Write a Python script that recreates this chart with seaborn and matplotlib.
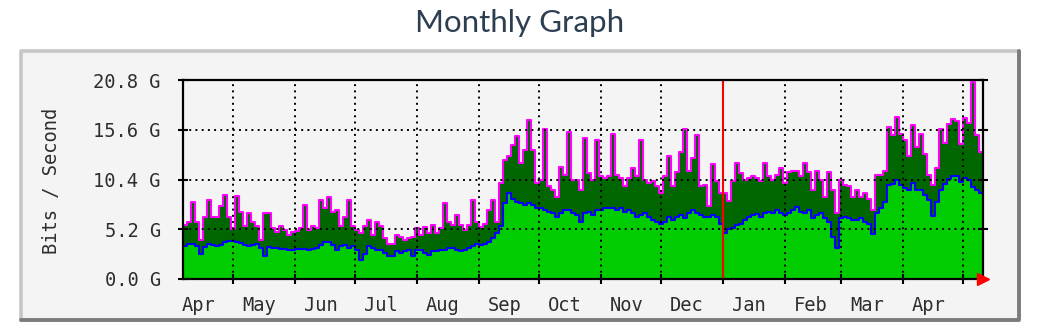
import numpy as np
import pandas as pd
import matplotlib
matplotlib.use("Agg")
import matplotlib.pyplot as plt
import matplotlib.dates as mdates
from matplotlib.patches import Rectangle
from matplotlib.lines import Line2D
import seaborn as sns

# ---- traffic samples: one value per 2-day bin, in Gbit/s -------------------
start_date = "2017-04-06"
end_date = "2018-05-11"
bin_days = 2

peak_traffic = [
    5.6, 6.0, 8.1, 6.0, 4.1, 6.5, 8.3, 6.5, 6.5, 7.6,
    8.8, 6.5, 5.2, 8.7, 7.0, 5.5, 6.9, 6.0, 5.5, 4.1,
    6.9, 6.9, 5.3, 4.9, 5.5, 5.1, 4.6, 4.9, 5.0, 5.3,
    7.7, 5.1, 5.5, 5.3, 8.3, 7.4, 8.6, 7.0, 7.2, 5.5,
    6.5, 8.3, 5.5, 5.1, 4.8, 5.5, 6.2, 4.6, 6.0, 5.5,
    4.3, 3.7, 3.7, 4.6, 4.4, 4.1, 4.3, 4.4, 5.3, 4.6,
    5.4, 4.8, 5.6, 4.8, 5.3, 7.9, 6.0, 5.6, 6.7, 5.6,
    5.1, 5.6, 8.3, 6.0, 5.4, 5.8, 7.2, 8.3, 6.0, 10.0,
    12.4, 12.9, 14.0, 14.9, 12.1, 13.5, 16.6, 13.5, 10.0, 10.4,
    15.7, 9.7, 9.3, 8.6, 11.7, 10.9, 15.4, 10.4, 10.4, 9.3,
    14.7, 11.1, 10.4, 14.5, 10.8, 10.6, 10.8, 15.2, 10.9, 10.6,
    9.7, 10.6, 11.6, 10.8, 14.5, 10.4, 10.0, 10.2, 9.7, 9.0,
    10.8, 12.9, 9.7, 11.2, 13.3, 15.7, 11.3, 12.6, 15.0, 9.7,
    9.8, 7.6, 12.0, 10.2, 9.0, 9.0, 8.2, 10.2, 12.1, 11.1,
    10.4, 10.6, 10.8, 10.6, 10.2, 12.1, 10.8, 10.4, 10.9, 11.6,
    10.0, 11.2, 11.3, 11.3, 10.8, 12.1, 11.2, 9.3, 11.3, 10.4,
    8.6, 11.2, 9.3, 6.9, 10.4, 9.8, 9.7, 8.6, 9.3, 8.6,
    9.0, 8.4, 7.2, 10.9, 10.9, 11.3, 15.9, 15.0, 16.9, 15.2,
    14.5, 12.9, 16.1, 13.8, 15.2, 13.1, 10.9, 9.8, 11.6, 15.7,
    14.2, 16.2, 16.7, 16.5, 14.1, 16.8, 16.3, 20.6, 15.0, 13.3,
]

avg_traffic = [
    3.5, 3.7, 3.7, 3.4, 2.6, 3.3, 3.7, 3.6, 3.4, 3.6,
    3.9, 4.0, 4.0, 3.9, 3.8, 3.6, 3.5, 3.6, 3.7, 3.2,
    2.4, 3.3, 3.2, 3.2, 3.1, 3.1, 3.0, 3.0, 3.1, 3.1,
    3.1, 3.0, 3.1, 3.2, 3.6, 3.9, 3.9, 3.6, 3.0, 3.4,
    3.6, 3.2, 3.4, 3.0, 2.0, 2.6, 3.4, 3.2, 3.0, 3.0,
    2.7, 2.4, 2.4, 2.9, 2.7, 2.9, 3.0, 2.4, 3.0, 3.0,
    2.7, 2.5, 2.9, 2.9, 3.0, 3.0, 3.2, 3.2, 3.0, 2.9,
    3.0, 3.2, 3.4, 3.7, 3.6, 3.7, 3.9, 4.3, 4.8, 5.5,
    7.9, 9.0, 8.4, 8.1, 7.9, 7.7, 7.9, 7.7, 7.4, 7.4,
    7.2, 7.0, 6.9, 6.5, 6.9, 7.2, 7.2, 6.9, 6.7, 6.0,
    6.9, 7.0, 6.7, 7.2, 7.2, 7.4, 7.4, 7.4, 7.2, 7.4,
    7.0, 7.2, 6.9, 6.5, 6.7, 6.9, 6.5, 6.2, 6.0, 5.8,
    6.0, 6.5, 6.2, 6.5, 6.7, 6.4, 6.9, 7.2, 6.9, 6.7,
    6.5, 6.5, 6.7, 6.5, 5.8, 4.8, 5.2, 5.3, 5.6, 5.8,
    6.2, 6.5, 6.7, 6.8, 6.5, 6.9, 7.0, 6.9, 7.2, 6.9,
    6.7, 6.9, 7.2, 7.5, 7.0, 6.9, 7.2, 6.4, 6.7, 6.9,
    6.4, 6.0, 4.4, 3.2, 6.4, 6.5, 6.4, 6.2, 6.2, 6.4,
    6.0, 5.8, 4.7, 6.9, 7.4, 8.1, 9.8, 9.95, 10.3, 9.8,
    9.5, 9.3, 10.0, 9.3, 9.3, 8.8, 8.3, 6.6, 8.1, 9.3,
    9.95, 10.5, 10.8, 10.8, 10.1, 10.6, 10.3, 9.6, 9.3, 9.0,
]

y_ticks = [0.0, 5.2, 10.4, 15.6, 20.8]
month_labels = ["Apr", "May", "Jun", "Jul", "Aug", "Sep", "Oct",
                "Nov", "Dec", "Jan", "Feb", "Mar", "Apr"]
year_boundary = "2018-01-01"

# ---- figure setup ----------------------------------------------------------
W, H = 1040, 336
sns.set_theme(style="white")
plt.rcParams["font.family"] = ["DejaVu Sans Mono"]
TXT = "#2e2e2e"
MONO_SIZE = 13.5


def fx(px):
    return px / W


def fy(py):
    return 1 - py / H


fig = plt.figure(figsize=(W / 100, H / 100), dpi=100)
fig.patch.set_facecolor("white")

# bevelled grey panel behind the chart
fig.add_artist(Rectangle((fx(21), fy(320)), fx(1019) - fx(21), fy(51) - fy(320),
                         transform=fig.transFigure, facecolor="#f4f4f4",
                         edgecolor="none", zorder=0))
fig.add_artist(Line2D([fx(21), fx(21), fx(1019)], [fy(320), fy(51), fy(51)],
                      transform=fig.transFigure, color="#c6c6c6", lw=2.6))
fig.add_artist(Line2D([fx(21), fx(1019), fx(1019)], [fy(320), fy(320), fy(51)],
                      transform=fig.transFigure, color="#7c7c7c", lw=2.8))

ax = fig.add_axes([fx(183), fy(279), fx(983) - fx(183), fy(80) - fy(279)])
ax.set_facecolor("#f4f4f4")

# ---- data ------------------------------------------------------------------
bins = pd.date_range(start_date, periods=len(peak_traffic), freq=f"{bin_days}D")
t = mdates.date2num(list(bins) + [pd.Timestamp(end_date)])
peak = np.append(peak_traffic, peak_traffic[-1])
avg = np.append(avg_traffic, avg_traffic[-1])

ax.fill_between(t, peak, step="post", color="#006600", lw=0, zorder=1)
ax.fill_between(t, avg, step="post", color="#00cc00", lw=0, zorder=1.1)
sns.lineplot(x=t, y=peak, ax=ax, color="#ff00ff", linewidth=1.5,
             drawstyle="steps-post", estimator=None, zorder=2)
sns.lineplot(x=t, y=avg, ax=ax, color="#0000ff", linewidth=1.5,
             drawstyle="steps-post", estimator=None, zorder=2.1)

# ---- axes ------------------------------------------------------------------
ax.set_xlim(t[0], t[-1])
ax.set_ylim(y_ticks[0], y_ticks[-1])

month_starts = pd.date_range("2017-05-01", "2018-05-01", freq="MS")
label_pos = [m + pd.Timedelta(days=13)
             for m in pd.date_range("2017-04-01", "2018-04-01", freq="MS")]
ax.set_xticks(mdates.date2num(month_starts))
ax.set_xticklabels([])
ax.set_xticks(mdates.date2num(label_pos), minor=True)
ax.set_xticklabels(month_labels, minor=True)

ax.set_yticks(y_ticks)
ax.set_yticklabels([f"{v:.1f} G" for v in y_ticks])

ax.grid(True, which="major", color="black", linestyle=(0, (1, 2.2)), lw=1.4)
ax.set_axisbelow(False)

ax.tick_params(axis="both", which="major", direction="inout", length=7,
               width=1.5, color="black", labelsize=MONO_SIZE, labelcolor=TXT)
ax.tick_params(axis="y", left=True, right=True, pad=12.5)
ax.tick_params(axis="x", which="major", bottom=True, top=False)
ax.tick_params(axis="x", which="minor", bottom=True, length=0, pad=12,
               labelsize=MONO_SIZE, labelcolor=TXT)
for side in ax.spines.values():
    side.set_visible(True)
    side.set_color("black")
    side.set_linewidth(1.6)
    side.set_zorder(5)

ax.axvline(mdates.date2num(pd.Timestamp(year_boundary)), color="#ff0000",
           lw=1.5, zorder=4)
ax.plot([t[-1]], [0], marker=">", color="#ff0000", markersize=9,
        clip_on=False, zorder=6, linestyle="none")

fig.text(fx(52), fy(181), "Bits / Second", rotation=90, ha="center",
         va="center", size=MONO_SIZE, color=TXT)
fig.text(0.5, fy(23), "Monthly Graph", ha="center", va="center",
         family=["Lato", "DejaVu Sans"], size=22.5, color="#2c3e50")

fig.savefig("out.png", dpi=100, facecolor="white")
